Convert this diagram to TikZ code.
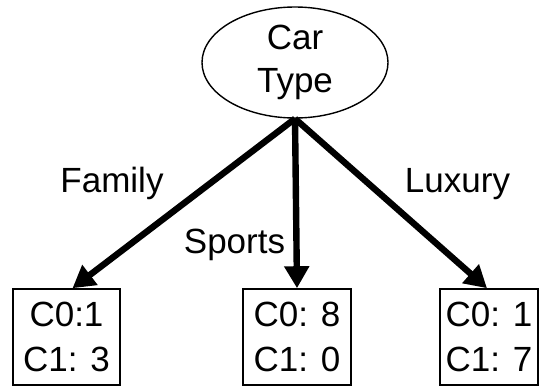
\documentclass[tikz,border=0pt]{standalone}
\usepackage{fontspec}
\setmainfont{Liberation Sans}
\usetikzlibrary{arrows.meta,shapes.geometric}

\tikzset{
  lbl/.style={font=\fontsize{17.5}{21}\selectfont, inner sep=0pt, anchor=base},
  attr/.style={draw, ellipse, line width=0.7pt, minimum width=93pt, minimum height=55.5pt,
    inner sep=0pt, align=center, font=\fontsize{17.5}{21.5}\selectfont},
  leafbox/.style={draw, line width=0.8pt, minimum height=48pt, inner sep=0pt,
    align=center, font=\fontsize{17.5}{22.5}\selectfont},
  branch/.style={line width=3.2pt, -{Triangle[length=11pt,width=12pt]}}
}

\begin{document}
\begin{tikzpicture}[x=0.5pt,y=-0.5pt]
        \useasboundingbox (0,0) rectangle (539,386);
        % root test
        \node[attr] (cartype) at (295,62.5) {Car\\Type};
        % leaves
        \node[leafbox, minimum width=53.5pt] (fam) at (66.5,337) {C0:1\\C1: 3};
        \node[leafbox, minimum width=54pt] (spo) at (297,337) {C0: 8\\C1: 0};
        \node[leafbox, minimum width=49pt] (lux) at (489,337) {C0: 1\\C1: 7};
        % branches
        \draw[branch] (cartype.south) -- ([xshift=3pt]fam.north);
        \draw[branch] (cartype.south) -- (spo.north);
        \draw[branch] (cartype.south) -- ([xshift=-1pt]lux.north);
        % branch labels
        \node[lbl] (famlbl) at (112,192) {Family};
        \node[lbl] (spolbl) at (234.5,253) {Sports};
        \node[lbl] (luxlbl) at (457.5,192) {Luxury};
\end{tikzpicture}
\end{document}
